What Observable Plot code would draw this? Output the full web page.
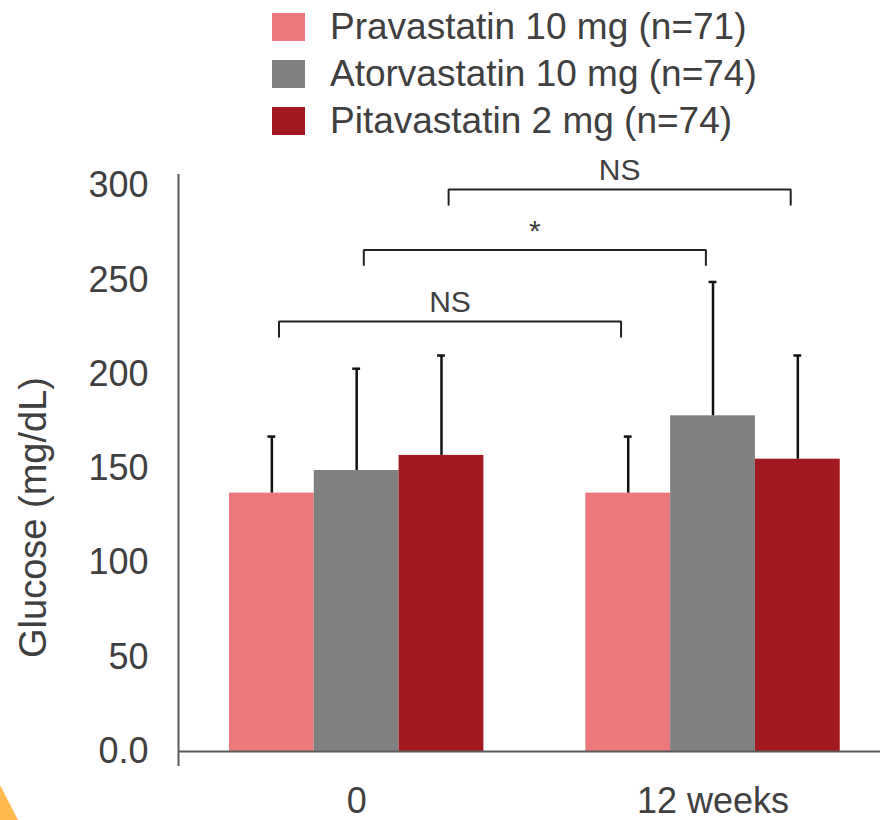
<!DOCTYPE html>
<html>
<head>
<meta charset="utf-8">
<script src="https://cdn.jsdelivr.net/npm/d3@7"></script>
<script src="https://cdn.jsdelivr.net/npm/@observablehq/plot@0.6"></script>
<style>
  body { margin: 0; width: 883px; height: 820px; position: relative; overflow: hidden; background: #fff;
         font-family: "Liberation Sans", Arial, sans-serif; color: #404040; }
  #legend { position: absolute; left: 272px; top: 3px; }
  .row { display: flex; align-items: center; height: 47px; }
  .swatch { width: 33px; height: 28px; margin-right: 25px; }
  .row span { font-size: 37px; line-height: 1; }
  #chart { position: absolute; left: 0; top: 150px; }
  #corner { position: absolute; left: 0; bottom: 0; }
</style>
</head>
<body>
<div id="legend"></div>
<div id="chart"></div>
<svg id="corner" width="40" height="40" viewBox="0 0 40 40"><polygon points="0,5 18,40 0,40" fill="#FFB94F"/></svg>
<script>
// Fasting glucose by treatment arm, baseline and after 12 weeks
const groups = ["0", "12 weeks"];
const series = ["Pravastatin 10 mg (n=71)", "Atorvastatin 10 mg (n=74)", "Pitavastatin 2 mg (n=74)"];
const colors = ["#EC787C", "#808080", "#A21A1F"];
const meanBaseline = [137, 149, 157];
const sdBaseline = [30, 54, 53];
const meanWeek12 = [137, 178, 155];
const sdWeek12 = [30, 71, 55];
const yTicks = [0, 50, 100, 150, 200, 250, 300];
const yTickLabels = ["0.0", "50", "100", "150", "200", "250", "300"];
// between-visit comparisons within each arm
const comparisonSeries = [0, 1, 2];
const comparisonLabels = ["NS", "*", "NS"];

// layout of the annotation brackets (y units)
const bracketLevels = [228, 266, 298];
const bracketDrop = 8;

const barWidth = 0.238;   // in group units, group centres at 0 and 1
const capHalf = 0.011;
const bracketInset = 0.02;
const xDomain = [-0.5, 1.47];

const means = [meanBaseline, meanWeek12];
const sds = [sdBaseline, sdWeek12];
const center = (gi, si) => gi + (si - 1) * barWidth;

const rows = [];
groups.forEach((g, gi) => series.forEach((s, si) => {
  rows.push({group: g, series: s, gi, si, mean: means[gi][si], sd: sds[gi][si], cx: center(gi, si)});
}));

const brackets = comparisonSeries.map((si, i) => ({
  label: comparisonLabels[i],
  x1: center(0, si) + bracketInset,
  x2: center(1, si) - bracketInset,
  level: bracketLevels[i]
}));
const bracketPath = brackets.flatMap((b, i) => [
  {id: i, x: b.x1, y: b.level - bracketDrop},
  {id: i, x: b.x1, y: b.level},
  {id: i, x: b.x2, y: b.level},
  {id: i, x: b.x2, y: b.level - bracketDrop}
]);

// legend
const legend = document.getElementById("legend");
series.forEach((s, i) => {
  const row = document.createElement("div");
  row.className = "row";
  row.innerHTML = `<div class="swatch" style="background:${colors[i]}"></div><span>${s}</span>`;
  legend.appendChild(row);
});

const axisColor = "#595959";

const chart = Plot.plot({
  width: 883,
  height: 670,
  marginLeft: 178,
  marginRight: 3,
  marginTop: 24,
  marginBottom: 54,
  style: {fontFamily: "Liberation Sans, Arial, sans-serif", fontSize: "36px", color: "#404040", background: "#fff", overflow: "visible"},
  x: {domain: xDomain, ticks: [0, 1], tickFormat: i => groups[i], tickSize: 0, tickPadding: 21, label: null},
  y: {domain: [-8, 306], ticks: yTicks, tickFormat: v => yTickLabels[yTicks.indexOf(v)], tickSize: 0, tickPadding: 30, label: null},
  color: {domain: series, range: colors},
  marks: [
    Plot.rect(rows, {x1: d => d.cx - barWidth / 2, x2: d => d.cx + barWidth / 2, y1: 0, y2: "mean", fill: "series"}),
    Plot.ruleY([0], {stroke: axisColor, strokeWidth: 2}),
    Plot.ruleX([xDomain[0]], {stroke: axisColor, strokeWidth: 2}),
    Plot.ruleX(rows, {x: "cx", y1: "mean", y2: d => d.mean + d.sd, stroke: "#111", strokeWidth: 2.5}),
    Plot.ruleY(rows, {y: d => d.mean + d.sd, x1: d => d.cx - capHalf, x2: d => d.cx + capHalf, stroke: "#111", strokeWidth: 2.5}),
    Plot.line(bracketPath, {x: "x", y: "y", z: "id", stroke: "#222", strokeWidth: 2, strokeLinejoin: "miter", curve: "linear"}),
    Plot.text(brackets, {x: d => (d.x1 + d.x2) / 2, y: "level", text: "label", dy: -19, fontSize: 30, fill: "#404040"}),
    Plot.text(["Glucose (mg/dL)"], {frameAnchor: "left", textAnchor: "middle", rotate: -90, dx: -145, dy: 47, fontSize: 38, fill: "#404040"})
  ]
});
document.getElementById("chart").appendChild(chart);
</script>
</body>
</html>
